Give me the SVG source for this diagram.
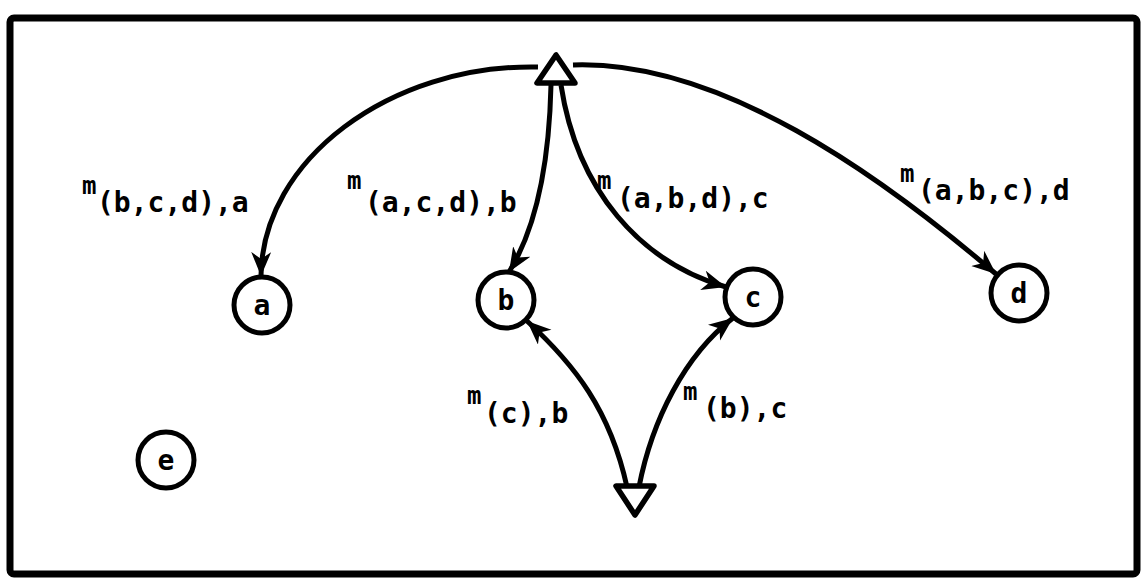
<svg xmlns="http://www.w3.org/2000/svg" width="1141" height="585" viewBox="0 0 1141 585">
<style>
  .frame{fill:none;stroke:#000;stroke-width:7}
  .node circle{fill:#fff;stroke:#000;stroke-width:5}
  .tri{fill:#fff;stroke:#000;stroke-width:5.5;stroke-linejoin:round}
  .edge{fill:none;stroke:#000;stroke-width:5;marker-end:url(#arr)}
  text{font-family:"DejaVu Sans Mono","Liberation Mono",monospace;font-weight:bold;fill:#000}
  .lbl{font-size:28px}
  .sup{font-size:24px}
  .nl{font-size:28px;text-anchor:middle}
</style>
<defs>
  <marker id="arr" markerUnits="userSpaceOnUse" markerWidth="26" markerHeight="22" refX="24" refY="10" orient="auto" viewBox="0 0 26 22">
    <path d="M0,0 L24,10 L0,20 L7,10 Z" fill="#000"/>
  </marker>
</defs>
<rect class="frame" x="10" y="18" width="1127" height="556" rx="4"/>
<g id="connectors">
  <path class="edge" d="M538,67 C390,64 262,160 261,276"/>
  <path class="edge" d="M573,65 C720,60 880,175 996,274"/>
  <path class="edge" d="M551,85 C549,170 535,230 509,272"/>
  <path class="edge" d="M561,85 C577,190 640,262 726,287"/>
  <path class="edge" d="M627,487 C610,410 575,365 527,321"/>
  <path class="edge" d="M639,487 C652,420 685,355 733,318"/>
</g>
<g id="labels">
  <text class="sup" x="82" y="194">m</text><text class="lbl" x="97" y="212">(b,c,d),a</text>
  <text class="sup" x="347" y="189">m</text><text class="lbl" x="365" y="212">(a,c,d),b</text>
  <text class="sup" x="597" y="189">m</text><text class="lbl" x="617" y="208">(a,b,d),c</text>
  <text class="sup" x="900" y="182">m</text><text class="lbl" x="918" y="200">(a,b,c),d</text>
  <text class="sup" x="467" y="404">m</text><text class="lbl" x="484" y="423">(c),b</text>
  <text class="sup" x="683" y="400">m</text><text class="lbl" x="703" y="418">(b),c</text>
</g>
<g id="top" class="node"><polygon class="tri" points="556,55 537,83 575,83"/></g>
<g id="bottom" class="node"><polygon class="tri" points="616,486 654,486 635,515"/></g>
<g id="a" class="node"><circle cx="262" cy="305" r="28"/><text class="nl" x="262" y="315">a</text></g>
<g id="b" class="node"><circle cx="506" cy="300" r="28"/><text class="nl" x="506" y="310">b</text></g>
<g id="c" class="node"><circle cx="753" cy="297" r="28"/><text class="nl" x="753" y="307">c</text></g>
<g id="d" class="node"><circle cx="1019" cy="293" r="28"/><text class="nl" x="1019" y="303">d</text></g>
<g id="e" class="node"><circle cx="166" cy="460" r="28"/><text class="nl" x="166" y="470">e</text></g>
</svg>
